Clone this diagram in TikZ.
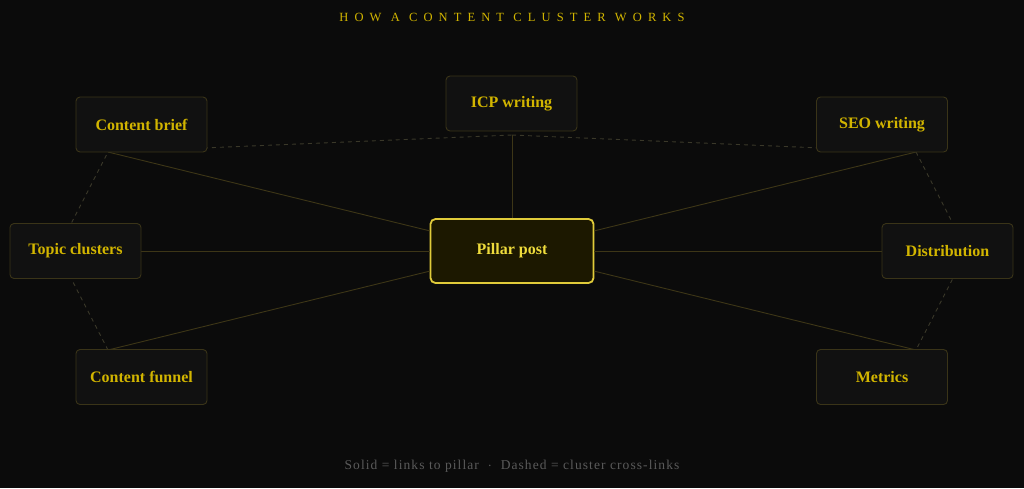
\documentclass[tikz,border=0pt]{standalone}
\usepackage{fontspec}
\setmainfont{Liberation Serif}
\usepackage{tikz}
\definecolor{bgdark}{HTML}{0B0B0B}
\definecolor{boxfill}{HTML}{111111}
\definecolor{boxline}{HTML}{3A3418}
\definecolor{gold}{HTML}{D2B500}
\definecolor{pillarfill}{HTML}{1C1800}
\definecolor{pillarline}{HTML}{E0CB3A}
\definecolor{pillartext}{HTML}{EEDB3C}
\definecolor{spokeline}{HTML}{3D3617}
\definecolor{crossline}{HTML}{3A3829}
\definecolor{notegray}{HTML}{5A5A5A}

\begin{document}
\begin{tikzpicture}[x=1pt, y=-1pt,
box/.style={draw=boxline, fill=boxfill, rounded corners=4pt, line width=0.9pt,
minimum width=131pt, minimum height=55pt, text=gold,
font=\bfseries\fontsize{16}{18}\selectfont},
spoke/.style={draw=spokeline, line width=0.9pt},
cross/.style={draw=crossline, line width=0.9pt, dash pattern=on 4pt off 4pt}]
\fill[bgdark] (0,0) rectangle (1024,488);
\useasboundingbox (0,0) rectangle (1024,488);
\node[draw=pillarline, fill=pillarfill, rounded corners=5pt, line width=1.8pt,
minimum width=163pt, minimum height=64pt, text=pillartext,
font=\bfseries\fontsize{16}{18}\selectfont] (pillar) at (512,251) {Pillar post};
% anchor points of the ring
\foreach \n/\x/\y in {icp/512/135, brief/108/152, seo/916/152, topic/57/251,
dist/967/251, funnel/108/350, metrics/916/350}{
\coordinate (a-\n) at (\x,\y);}
\foreach \n in {icp, brief, seo, topic, dist, funnel, metrics}{
\draw[spoke] (pillar) -- (a-\n);}
\foreach \a/\b in {topic/brief, brief/icp, icp/seo, seo/dist, dist/metrics, funnel/topic}{
\draw[cross] (a-\a) -- (a-\b);}
\node[box] (icp) at (511.5,103.5) {ICP writing};
\node[box] (brief) at (141.5,124.5) {Content brief};
\node[box] (seo) at (882,124.5) {SEO writing};
\node[box] (topic) at (75.5,251) {Topic clusters};
\node[box] (dist) at (947.5,251) {Distribution};
\node[box] (funnel) at (141.5,377) {Content funnel};
\node[box] (metrics) at (882,377) {Metrics};
\node[text=gold, font=\fontsize{12.5}{14}\selectfont\addfontfeature{LetterSpace=49}]
(title) at (512,17) {HOW A CONTENT CLUSTER WORKS};
\node[text=notegray, font=\fontsize{13.5}{15}\selectfont\addfontfeature{LetterSpace=8}]
(note) at (512,466) {Solid = links to pillar \ $\cdot$ \ Dashed = cluster cross-links};
\end{tikzpicture}
\end{document}
